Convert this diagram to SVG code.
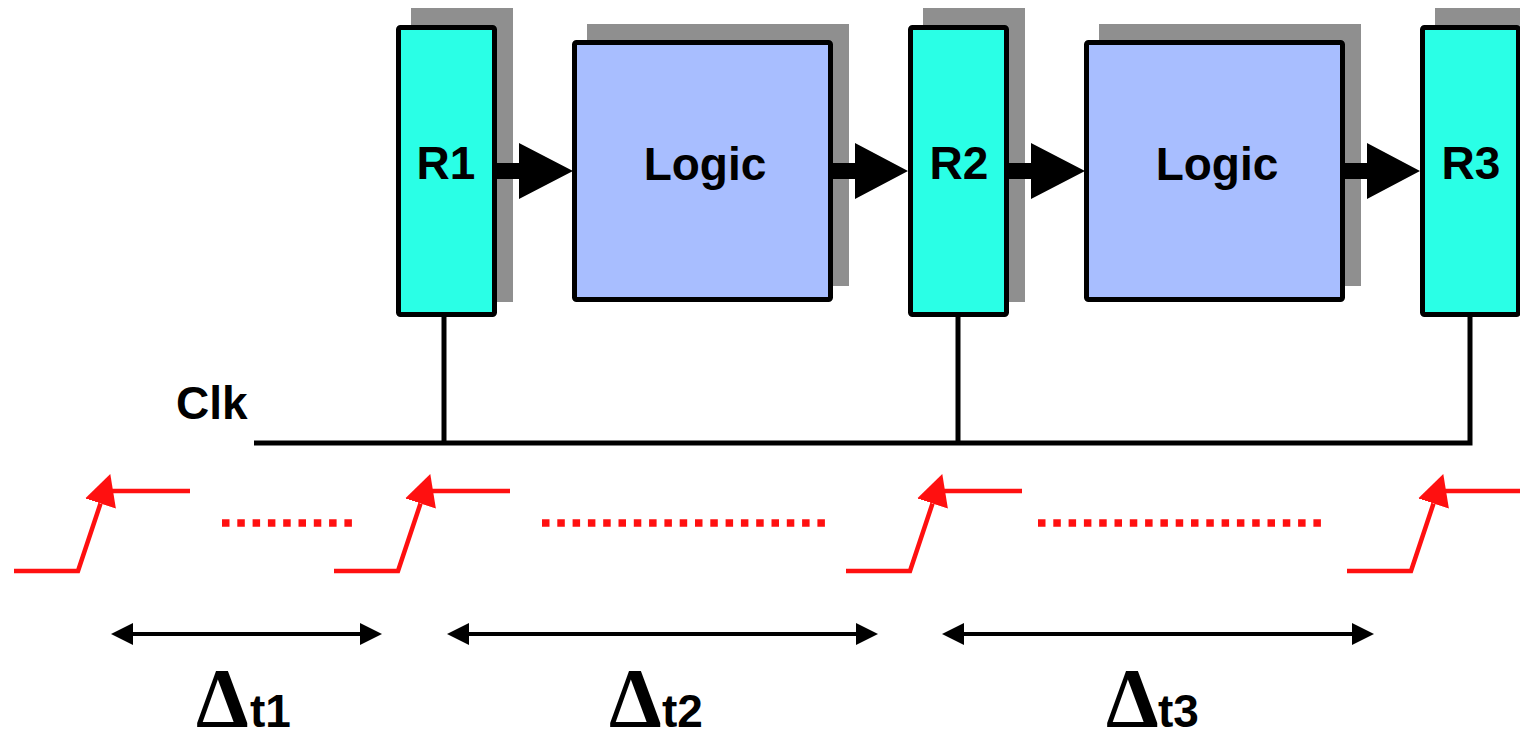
<svg xmlns="http://www.w3.org/2000/svg" width="1520" height="732" viewBox="0 0 1520 732">
<style>
  .shadow { fill: #8f8f8f; }
  .reg { fill: #2affe6; stroke: #000; stroke-width: 5; }
  .logic { fill: #a8beff; stroke: #000; stroke-width: 5; }
  .lbl { font-family: "Liberation Sans", Arial, sans-serif; font-weight: bold; font-size: 46px; fill: #000; }
  .delta { font-family: "Liberation Serif", "Times New Roman", serif; font-weight: bold; font-size: 84px; }
  .wire { fill: none; stroke: #000; stroke-width: 5; }
  .fat { fill: #000; }
  .clkw { fill: none; stroke: #ff1010; stroke-width: 4.5; }
  .dots { fill: none; stroke: #ff1010; stroke-width: 7.5; stroke-dasharray: 7.5 7.8; }
  .dim { fill: none; stroke: #000; stroke-width: 4; }
</style>
<defs>
  <marker id="redhead" markerUnits="userSpaceOnUse" markerWidth="32" markerHeight="34" viewBox="0 -16 31 32" refX="0" refY="0" orient="auto">
    <path d="M0,-15.7 L30,0 L0,15.7 Z" fill="#ff1010"/>
  </marker>
  <marker id="dimhead" markerUnits="userSpaceOnUse" markerWidth="23" markerHeight="24" viewBox="0 -12 23 24" refX="0" refY="0" orient="auto-start-reverse">
    <path d="M0,-11 L22,0 L0,11 Z" fill="#000"/>
  </marker>
  <g id="edge">
    <path class="clkw" d="M14,571 H78 L100.5,503.5" marker-end="url(#redhead)"/>
    <path class="clkw" d="M107,491 H190"/>
  </g>
</defs>

<g id="connectors">
  <path class="wire" d="M444,317 V443"/>
  <path class="wire" d="M958,317 V443"/>
  <path class="wire" d="M254,443 H1470 V317"/>
</g>

<g id="R1">
  <rect class="shadow" x="411" y="8" width="102" height="294"/>
  <rect class="reg" x="398.5" y="27.5" width="96" height="287" rx="2"/>
  <text class="lbl" x="446" y="179" text-anchor="middle">R1</text>
</g>
<g id="Logic1">
  <rect class="shadow" x="587" y="24" width="262" height="262"/>
  <rect class="logic" x="574.5" y="42.5" width="256" height="257" rx="2"/>
  <text class="lbl" x="705" y="180" text-anchor="middle">Logic</text>
</g>
<g id="R2">
  <rect class="shadow" x="923" y="8" width="102" height="294"/>
  <rect class="reg" x="910.5" y="27.5" width="96" height="287" rx="2"/>
  <text class="lbl" x="959" y="179" text-anchor="middle">R2</text>
</g>
<g id="Logic2">
  <rect class="shadow" x="1099" y="24" width="262" height="262"/>
  <rect class="logic" x="1086.5" y="42.5" width="256" height="257" rx="2"/>
  <text class="lbl" x="1217" y="180" text-anchor="middle">Logic</text>
</g>
<g id="R3">
  <rect class="shadow" x="1435" y="8" width="102" height="294"/>
  <rect class="reg" x="1422.5" y="27.5" width="96" height="287" rx="2"/>
  <text class="lbl" x="1471" y="179" text-anchor="middle">R3</text>
</g>

<g id="dataflow">
  <path class="fat" d="M497,163 H519 V143 L573,171 L519,199 V179 H497 Z"/>
  <path class="fat" d="M833,163 H855 V143 L908,171 L855,199 V179 H833 Z"/>
  <path class="fat" d="M1009,163 H1031 V143 L1085,171 L1031,199 V179 H1009 Z"/>
  <path class="fat" d="M1345,163 H1367 V143 L1420,171 L1367,199 V179 H1345 Z"/>
</g>

<g id="clk-label">
  <text class="lbl" x="176" y="419">Clk</text>
</g>

<g id="waveform">
  <use href="#edge"/>
  <use href="#edge" transform="translate(320,0)"/>
  <use href="#edge" transform="translate(832,0)"/>
  <use href="#edge" transform="translate(1333,0)"/>
  <path class="dots" d="M222,523 H352"/>
  <path class="dots" d="M542,523 H827"/>
  <path class="dots" d="M1038,523 H1323"/>
</g>

<g id="intervals">
  <path class="dim" d="M133,634 H360" marker-start="url(#dimhead)" marker-end="url(#dimhead)"/>
  <path class="dim" d="M469,634 H856" marker-start="url(#dimhead)" marker-end="url(#dimhead)"/>
  <path class="dim" d="M964,634 H1352" marker-start="url(#dimhead)" marker-end="url(#dimhead)"/>
  <text class="lbl" y="727"><tspan class="delta" x="196">Δ</tspan><tspan x="250">t1</tspan></text>
  <text class="lbl" y="727"><tspan class="delta" x="609">Δ</tspan><tspan x="662">t2</tspan></text>
  <text class="lbl" y="727"><tspan class="delta" x="1106">Δ</tspan><tspan x="1158">t3</tspan></text>
</g>
</svg>
